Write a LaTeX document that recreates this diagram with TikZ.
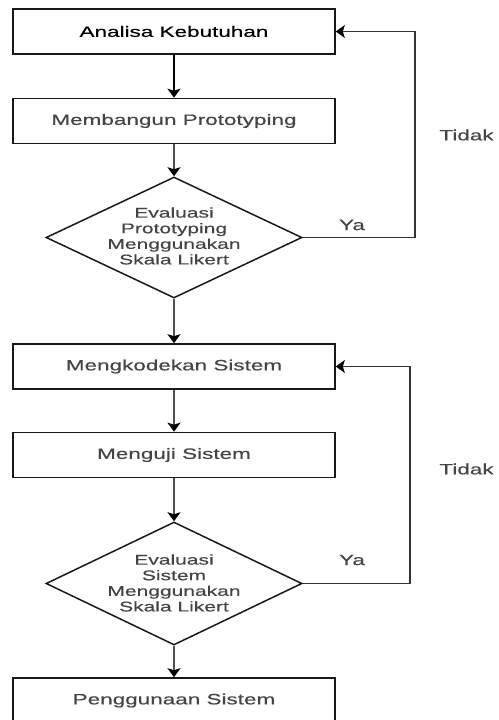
\documentclass[tikz,border=0pt]{standalone}
\usepackage{fontspec}
\setmainfont{Liberation Sans}
\newfontfamily\wideff[FakeStretch=1.5,FakeBold=0.4]{Liberation Sans}
\usetikzlibrary{shapes.geometric,arrows.meta}
\definecolor{txtgray}{HTML}{444444}
\definecolor{lngray}{HTML}{505050}
\tikzset{
  box/.style={draw=black!90, line width=1.6pt, rectangle, minimum width=322pt, minimum height=45pt, inner sep=0pt,
    font=\wideff\fontsize{15}{17}\selectfont, text=txtgray},
  dia/.style={draw=black!90, line width=1.5pt, diamond, minimum width=256pt, minimum height=121pt, inner sep=0pt},
  diatext/.style={align=center, font=\wideff\fontsize{14}{15.6}\selectfont, text=txtgray, inner sep=0pt},
  lbl/.style={font=\wideff\fontsize{15}{17}\selectfont, text=txtgray, inner sep=0pt},
  arr/.style={line width=1.8pt, draw=lngray, -{Stealth[width=13pt,length=9pt,inset=2pt,fill=black,color=black]}},
  fb/.style={line width=1.5pt, draw=black!80, -{Stealth[width=13pt,length=9pt,inset=2pt,fill=black,color=black]}}
}
\begin{document}
\begin{tikzpicture}[x=1pt,y=-1pt]
\useasboundingbox (0,0) rectangle (498,720);
\clip (0,0) rectangle (498,720);
\node[box, text=black] (a) at (174,31.5) {Analisa Kebutuhan};
\node[box] (b) at (174,121) {Membangun Prototyping};
\node[dia] (d1) at (174,237.5) {};
\node[diatext] (d1t) at (174,236) {Evaluasi\\Prototyping\\Menggunakan\\Skala Likert};
\node[box] (c) at (174,366.5) {Mengkodekan Sistem};
\node[box] (e) at (174,455) {Menguji Sistem};
\node[dia, minimum height=123pt] (d2) at (174,583.5) {};
\node[diatext] (d2t) at (174,583) {Evaluasi\\Sistem\\Menggunakan\\Skala Likert};
\node[box] (f) at (174,700.5) {Penggunaan Sistem};

\coordinate (k1) at (415,31.5);
\coordinate (k2) at (410,366.5);

\draw[arr, draw=black] (a) -- (b);
\draw[arr] (b) -- (d1);
\draw[arr] (d1) -- (c);
\draw[arr] (c) -- (e);
\draw[arr] (e) -- (d2);
\draw[arr] (d2) -- (f);
\draw[fb] (d1.east) -| (k1) -- (a.east);
\draw[fb] (d2.east) -| (k2) -- (c.east);

\node[lbl] (ya1) at (352,225) {Ya};
\node[lbl] (ya2) at (352,560) {Ya};
\node[lbl] (t1) at (466.5,135) {Tidak};
\node[lbl] (t2) at (466.5,469) {Tidak};
\end{tikzpicture}
\end{document}
